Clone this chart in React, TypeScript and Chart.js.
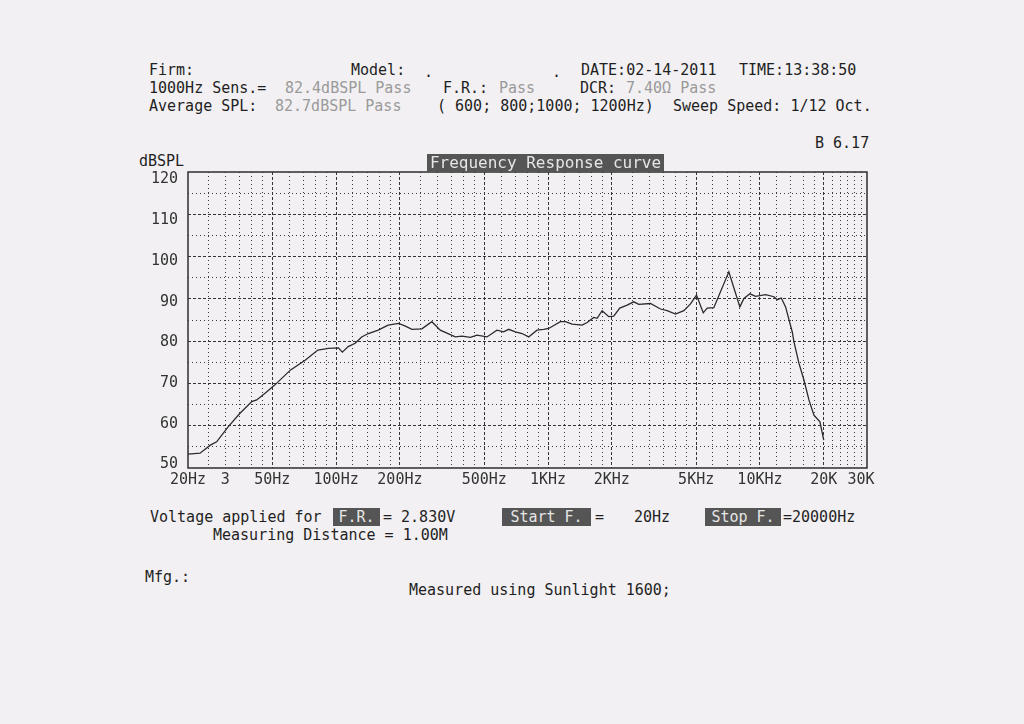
import React, { useEffect, useRef } from "react";
import { Chart, registerables } from "chart.js";

Chart.register(...registerables);

// ---- data ----
const frequencies = [
  20, 22.8, 25.5, 27.3, 31, 35.1, 40, 42.2, 46.2, 51.3, 61, 71.4, 82, 91.9,
  102.5, 107, 114, 123, 132, 142, 158, 176, 197, 211, 228, 254, 283, 310, 365,
  393, 430, 462, 515, 574, 617, 652, 701, 754, 810, 887, 954, 1007, 1144, 1207,
  1299, 1448, 1529, 1643, 1704, 1800, 1934, 2042, 2180, 2362, 2538, 2681, 3043,
  3394, 3650, 3994, 4372, 4702, 5018, 5400, 5638, 6058, 7132, 8040, 8400, 8963,
  9536, 10634, 11636, 12072, 12610, 13213, 14215, 14464, 15270, 16126, 17026,
  17976, 19188, 20000,
];
const splValues = [
  53.3, 53.5, 55.4, 56.2, 59.8, 62.9, 65.7, 66.1, 67.7, 69.6, 73.2, 75.5, 77.9,
  78.3, 78.4, 77.4, 78.7, 79.5, 81.0, 81.8, 82.6, 83.8, 84.2, 83.6, 82.8, 82.9,
  84.6, 82.6, 81.0, 81.2, 80.9, 81.4, 81.0, 82.6, 82.2, 82.8, 82.2, 81.8, 81.0,
  82.6, 82.8, 83.0, 84.6, 84.6, 84.0, 83.8, 84.4, 85.6, 85.4, 87.2, 85.8, 85.9,
  87.8, 88.5, 89.3, 88.7, 88.9, 87.6, 87.2, 86.4, 87.2, 88.8, 90.9, 86.7, 87.8,
  87.9, 96.4, 88.1, 90.1, 91.2, 90.6, 91.0, 90.5, 89.8, 90.2, 88.1, 82.1, 79.9,
  74.8, 70.8, 66.1, 62.5, 60.9, 56.6,
];

const xTickValues = [20, 30, 50, 100, 200, 500, 1000, 2000, 5000, 10000, 20000, 30000];
const xTickLabels = ["20Hz", "3", "50Hz", "100Hz", "200Hz", "500Hz", "1KHz", "2KHz", "5KHz", "10KHz", "20K", "30K"];
const xMajorGrid = [50, 100, 200, 500, 1000, 2000, 5000, 10000, 20000];
const xMinorGrid = [
  25, 30, 35, 40, 45, 60, 70, 80, 90, 120, 140, 160, 180, 250, 300, 350, 400,
  450, 600, 700, 800, 900, 1200, 1400, 1600, 1800, 2500, 3000, 3500, 4000, 4500,
  6000, 7000, 8000, 9000, 12000, 14000, 16000, 18000, 22000, 24000, 26000,
  28000, 30000,
];
const yTickValues = [50, 60, 70, 80, 90, 100, 110, 120];
const yMajorGrid = [60, 70, 80, 90, 100, 110];
const yMinorGrid = [55, 65, 75, 85, 95, 105, 115];

const X_MIN = 20;
const X_MAX = 32000;
const Y_MIN = 50;
const Y_MAX = 120;
// the printout's dB labels sit on a text-row grid slightly tighter than the plot grid
const Y_LABEL_MIN = 49.14;
const Y_LABEL_MAX = 121.85;

const INK = "#1f1f1f";
const GRAY = "#9a9a9a";
const PAPER = "#f2f0f2";
const MONO = "'DejaVu Sans Mono', 'Liberation Mono', monospace";

const framePlugin = {
  id: "frame",
  beforeDatasetsDraw(chart: any) {
    const { ctx, chartArea: a } = chart;
    ctx.save();
    ctx.strokeStyle = "#2e2e2e";
    ctx.lineWidth = 1.5;
    ctx.strokeRect(a.left, a.top, a.right - a.left, a.bottom - a.top);
    ctx.restore();
  },
};

function setTicks(list: number[]) {
  return (scale: any) => {
    scale.ticks = list.map((v) => ({ value: v }));
  };
}

function FrequencyChart() {
  const ref = useRef<HTMLCanvasElement | null>(null);
  useEffect(() => {
    if (!ref.current) return;
    const chart = new Chart(ref.current, {
      type: "line",
      data: {
        datasets: [
          {
            data: frequencies.map((f, i) => ({ x: f, y: splValues[i] })),
            borderColor: "#2b2b2b",
            borderWidth: 1.3,
            pointRadius: 0,
            tension: 0,
            fill: false,
            xAxisID: "x",
            yAxisID: "y",
          },
        ],
      },
      options: {
        animation: false,
        responsive: false,
        devicePixelRatio: 1,
        layout: { padding: { top: 22, right: 13, left: 0, bottom: 0 } },
        plugins: { legend: { display: false }, tooltip: { enabled: false } },
        scales: {
          x: {
            type: "logarithmic",
            position: "bottom",
            min: X_MIN,
            max: X_MAX,
            afterBuildTicks: setTicks(xTickValues),
            afterFit: (s: any) => {
              s.height = 24;
            },
            ticks: {
              autoSkip: false,
              maxRotation: 0,
              padding: 3,
              color: "#333",
              font: { family: MONO, size: 15 },
              callback: (v: any) => {
                const i = xTickValues.indexOf(Number(v));
                return i >= 0 ? xTickLabels[i] : "";
              },
            },
            grid: {
              drawTicks: false,
              lineWidth: 1,
              color: (c: any) =>
                c.tick && xMajorGrid.includes(c.tick.value) ? "#333" : "rgba(0,0,0,0)",
            },
            border: { display: false, dash: [3, 2] },
          },
          xMinor: {
            type: "logarithmic",
            position: "bottom",
            min: X_MIN,
            max: X_MAX,
            afterBuildTicks: setTicks(xMinorGrid),
            afterFit: (s: any) => {
              s.height = 0;
            },
            ticks: { display: false },
            grid: { drawTicks: false, lineWidth: 1, color: "#3a3a3a" },
            border: { display: false, dash: [1, 3] },
          },
          y: {
            type: "linear",
            position: "left",
            min: Y_MIN,
            max: Y_MAX,
            afterBuildTicks: setTicks(yTickValues),
            afterFit: (s: any) => {
              s.width = 0;
            },
            ticks: { display: false },
            grid: {
              drawTicks: false,
              lineWidth: 1,
              color: (c: any) =>
                c.tick && yMajorGrid.includes(c.tick.value) ? "#333" : "rgba(0,0,0,0)",
            },
            border: { display: false, dash: [3, 2] },
          },
          yMinor: {
            type: "linear",
            position: "left",
            min: Y_MIN,
            max: Y_MAX,
            afterBuildTicks: setTicks(yMinorGrid),
            afterFit: (s: any) => {
              s.width = 0;
            },
            ticks: { display: false },
            grid: { drawTicks: false, lineWidth: 1, color: "#3a3a3a" },
            border: { display: false, dash: [1, 3] },
          },
          yLabels: {
            type: "linear",
            position: "left",
            min: Y_LABEL_MIN,
            max: Y_LABEL_MAX,
            afterBuildTicks: setTicks(yTickValues),
            afterFit: (s: any) => {
              s.width = 58;
            },
            ticks: {
              padding: 10,
              color: "#333",
              font: { family: MONO, size: 15 },
              callback: (v: any) => String(v),
            },
            grid: { display: false, drawTicks: false },
            border: { display: false },
          },
        },
      } as any,
      plugins: [framePlugin],
    });
    return () => chart.destroy();
  }, []);
  return (
    <canvas
      ref={ref}
      width={750}
      height={342}
      style={{ position: "absolute", left: 130, top: 150, width: 750, height: 342 }}
    />
  );
}

function T(props: { x: number; y: number; children: any; color?: string; size?: number }) {
  const size = props.size ?? 15;
  return (
    <div
      style={{
        position: "absolute",
        left: props.x,
        top: props.y - 9,
        height: 18,
        lineHeight: "18px",
        fontFamily: MONO,
        fontSize: size,
        color: props.color ?? INK,
        whiteSpace: "pre",
      }}
    >
      {props.children}
    </div>
  );
}

function Box(props: { x: number; y: number; w: number; children: any; size?: number }) {
  return (
    <div
      style={{
        position: "absolute",
        left: props.x,
        top: props.y - 9,
        width: props.w,
        height: 18,
        lineHeight: "18px",
        background: "#555555",
        color: "#e6e6e6",
        fontFamily: MONO,
        fontSize: props.size ?? 15,
        textAlign: "center",
        whiteSpace: "pre",
      }}
    >
      {props.children}
    </div>
  );
}

export default function App() {
  return (
    <div
      style={{
        position: "fixed",
        left: 0,
        top: 0,
        width: 1024,
        height: 724,
        background: PAPER,
        overflow: "hidden",
      }}
    >
      {/* header */}
      <T x={149} y={70}>Firm:</T>
      <T x={351} y={70}>Model:</T>
      <T x={424} y={72}>.</T>
      <T x={552} y={72}>.</T>
      <T x={581} y={70}>DATE:02-14-2011</T>
      <T x={739} y={70}>TIME:13:38:50</T>

      <T x={149} y={88}>1000Hz Sens.=</T>
      <T x={285} y={88} color={GRAY}>82.4dBSPL Pass</T>
      <T x={443} y={88}>F.R.:</T>
      <T x={499} y={88} color={GRAY}>Pass</T>
      <T x={580} y={88}>DCR:</T>
      <T x={626} y={88} color={GRAY}>7.40Ω Pass</T>

      <T x={149} y={106}>Average SPL:</T>
      <T x={275} y={106} color={GRAY}>82.7dBSPL Pass</T>
      <T x={437} y={106}>( 600; 800;1000; 1200Hz)</T>
      <T x={673} y={106}>Sweep Speed: 1/12 Oct.</T>

      <T x={815} y={143}>B 6.17</T>
      <T x={139} y={161}>dBSPL</T>

      <FrequencyChart />

      <div style={{ position: "absolute", left: 0, top: 0, zIndex: 2 }}>
        <Box x={427} y={163} w={237} size={16}>Frequency Response curve</Box>
      </div>

      {/* footer */}
      <T x={150} y={517}>Voltage applied for</T>
      <Box x={333} y={517} w={47}>F.R.</Box>
      <T x={383} y={517}>= 2.830V</T>
      <Box x={502} y={517} w={89}>Start F.</Box>
      <T x={595} y={517}>=</T>
      <T x={634} y={517}>20Hz</T>
      <Box x={705} y={517} w={76}>Stop F.</Box>
      <T x={783} y={517}>=20000Hz</T>
      <T x={213} y={535}>Measuring Distance = 1.00M</T>
      <T x={145} y={577}>Mfg.:</T>
      <T x={409} y={590}>Measured using Sunlight 1600;</T>
    </div>
  );
}
